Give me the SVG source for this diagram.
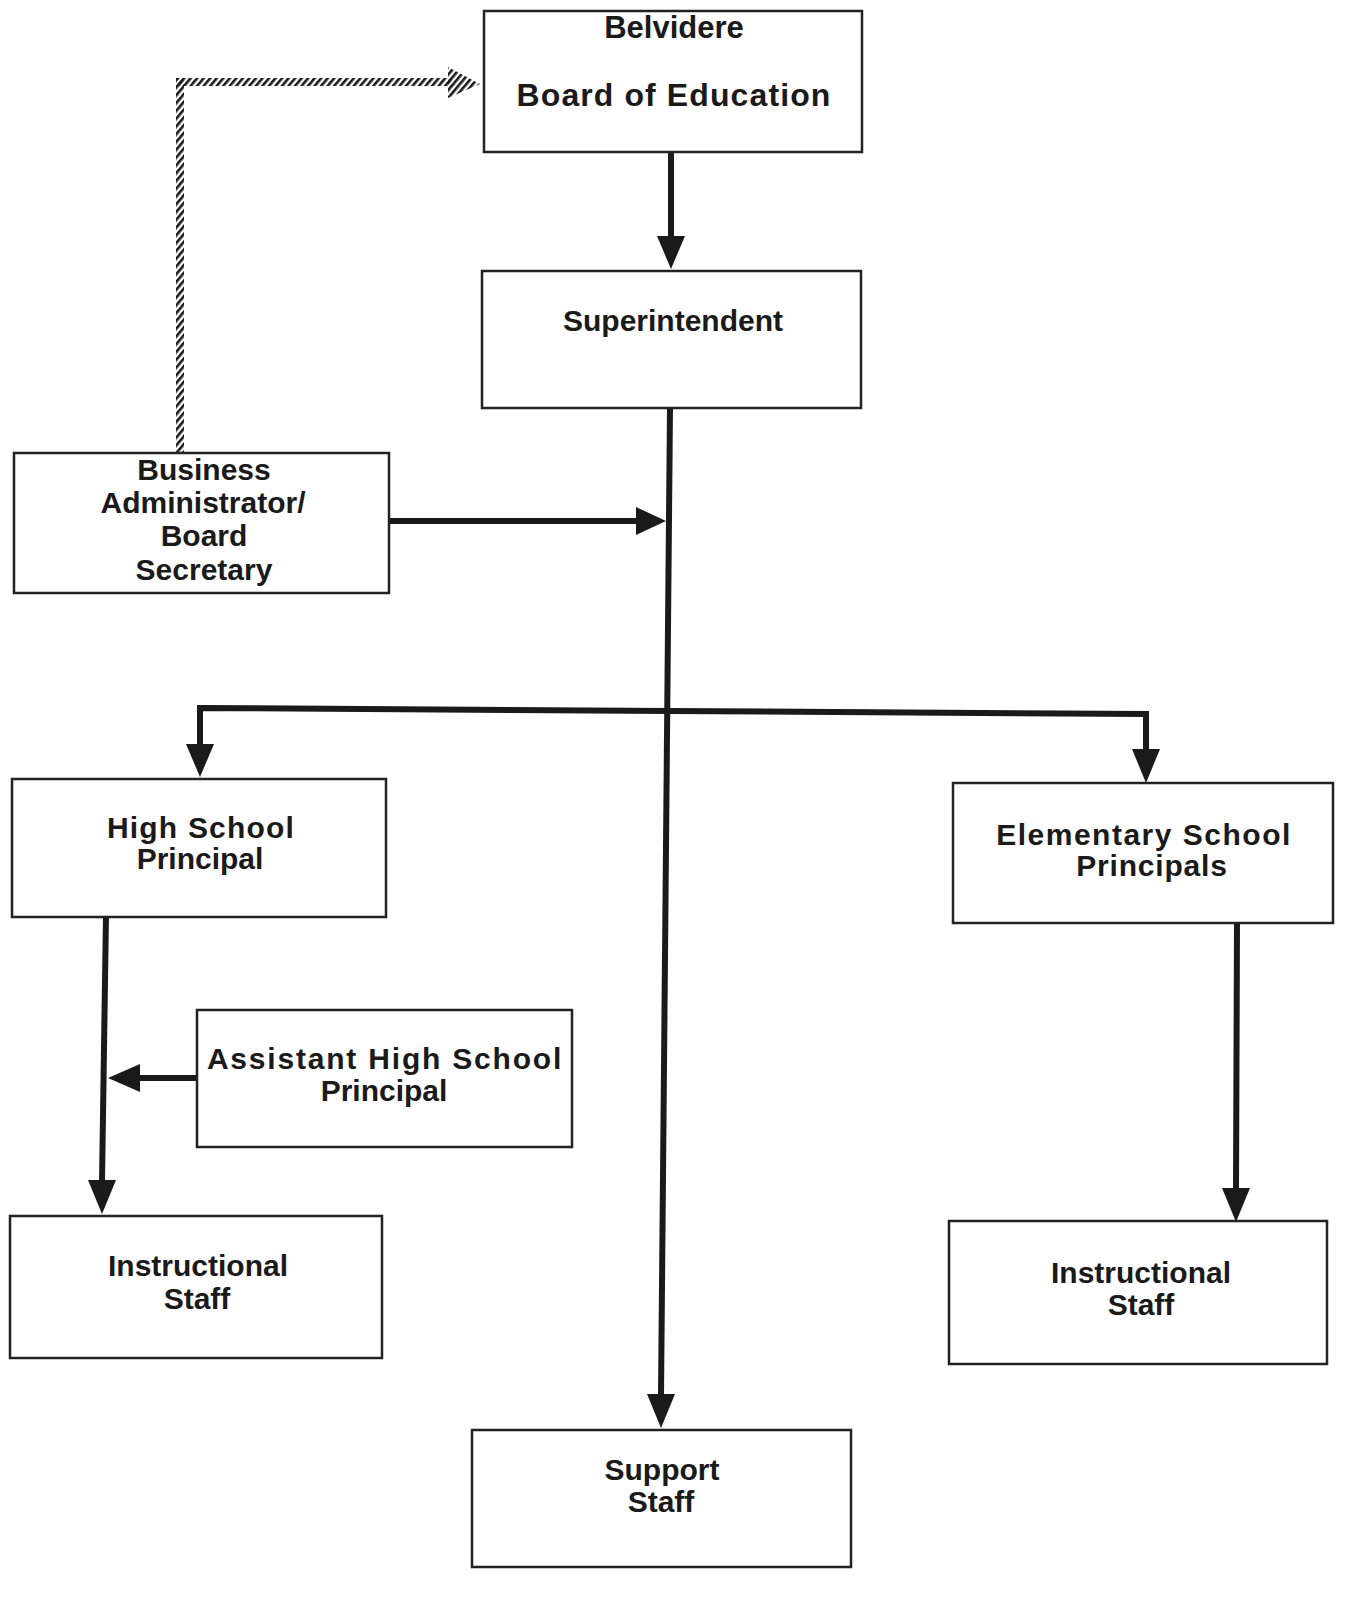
<svg xmlns="http://www.w3.org/2000/svg" width="1366" height="1601" viewBox="0 0 1366 1601">
<style>
.box{fill:#fff;stroke:#222;stroke-width:2.5}
.t{font-family:"Liberation Sans",Arial,sans-serif;font-weight:bold;font-size:30px;fill:#1a1a1a;text-anchor:middle}
.ln{stroke:#1a1a1a;stroke-width:6;fill:none;stroke-linecap:round}
.hd{fill:#1a1a1a}
</style>
<defs>
<pattern id="stripes" width="5" height="5" patternUnits="userSpaceOnUse" patternTransform="rotate(40)">
<rect width="2.6" height="5" fill="#1a1a1a"/>
</pattern>
</defs>
<rect width="1366" height="1601" fill="#fff"/>
<g id="connectors">
<rect x="176" y="78" width="8" height="374" fill="url(#stripes)"/>
<rect x="176" y="78" width="276" height="8" fill="url(#stripes)"/>
<polygon points="448,67 480,84 448,98" fill="url(#stripes)"/>
<line class="ln" x1="671" y1="152" x2="671" y2="238"/>
<polygon class="hd" points="657,236 685,236 671,269"/>
<line class="ln" x1="670" y1="408" x2="661" y2="1396"/>
<polygon class="hd" points="647,1394 675,1394 661,1428"/>
<line class="ln" x1="389" y1="521" x2="638" y2="521"/>
<polygon class="hd" points="636,507 636,535 666,521"/>
<path class="ln" d="M200,745 L200,708 L670,711 L1146,714 L1146,750"/>
<polygon class="hd" points="186,744 214,744 200,777"/>
<polygon class="hd" points="1132,749 1160,749 1146,783"/>
<line class="ln" x1="106" y1="915" x2="102" y2="1182"/>
<polygon class="hd" points="88,1180 116,1180 102,1214"/>
<line class="ln" x1="197" y1="1078" x2="138" y2="1078"/>
<polygon class="hd" points="140,1064 140,1092 108,1078"/>
<line class="ln" x1="1237" y1="922" x2="1236" y2="1190"/>
<polygon class="hd" points="1222,1188 1250,1188 1236,1222"/>
</g>
<g id="board">
<rect class="box" x="484" y="11" width="378" height="141"/>
<text class="t" x="674" y="38" style="font-size:31px">Belvidere</text>
<text class="t" x="674" y="106" style="font-size:32px;letter-spacing:1.1px">Board of Education</text>
</g>
<g id="superintendent">
<rect class="box" x="482" y="271" width="379" height="137"/>
<text class="t" x="673" y="331">Superintendent</text>
</g>
<g id="business">
<rect class="box" x="14" y="453" width="375" height="140"/>
<text class="t" x="204" y="480">Business</text>
<text class="t" x="203" y="513">Administrator/</text>
<text class="t" x="204" y="546">Board</text>
<text class="t" x="204" y="580">Secretary</text>
</g>
<g id="hs-principal">
<rect class="box" x="12" y="779" width="374" height="138"/>
<text class="t" x="201" y="838" style="letter-spacing:1.2px">High School</text>
<text class="t" x="200" y="869">Principal</text>
</g>
<g id="elem-principals">
<rect class="box" x="953" y="783" width="380" height="140"/>
<text class="t" x="1144" y="845" style="letter-spacing:1.5px">Elementary School</text>
<text class="t" x="1152" y="876" style="letter-spacing:0.8px">Principals</text>
</g>
<g id="asst-principal">
<rect class="box" x="197" y="1010" width="375" height="137"/>
<text class="t" x="385" y="1069" style="letter-spacing:1.8px">Assistant High School</text>
<text class="t" x="384" y="1101">Principal</text>
</g>
<g id="hs-staff">
<rect class="box" x="10" y="1216" width="372" height="142"/>
<text class="t" x="198" y="1276">Instructional</text>
<text class="t" x="197" y="1309">Staff</text>
</g>
<g id="elem-staff">
<rect class="box" x="949" y="1221" width="378" height="143"/>
<text class="t" x="1141" y="1283">Instructional</text>
<text class="t" x="1141" y="1315">Staff</text>
</g>
<g id="support-staff">
<rect class="box" x="472" y="1430" width="379" height="137"/>
<text class="t" x="662" y="1480">Support</text>
<text class="t" x="661" y="1512">Staff</text>
</g>
</svg>
